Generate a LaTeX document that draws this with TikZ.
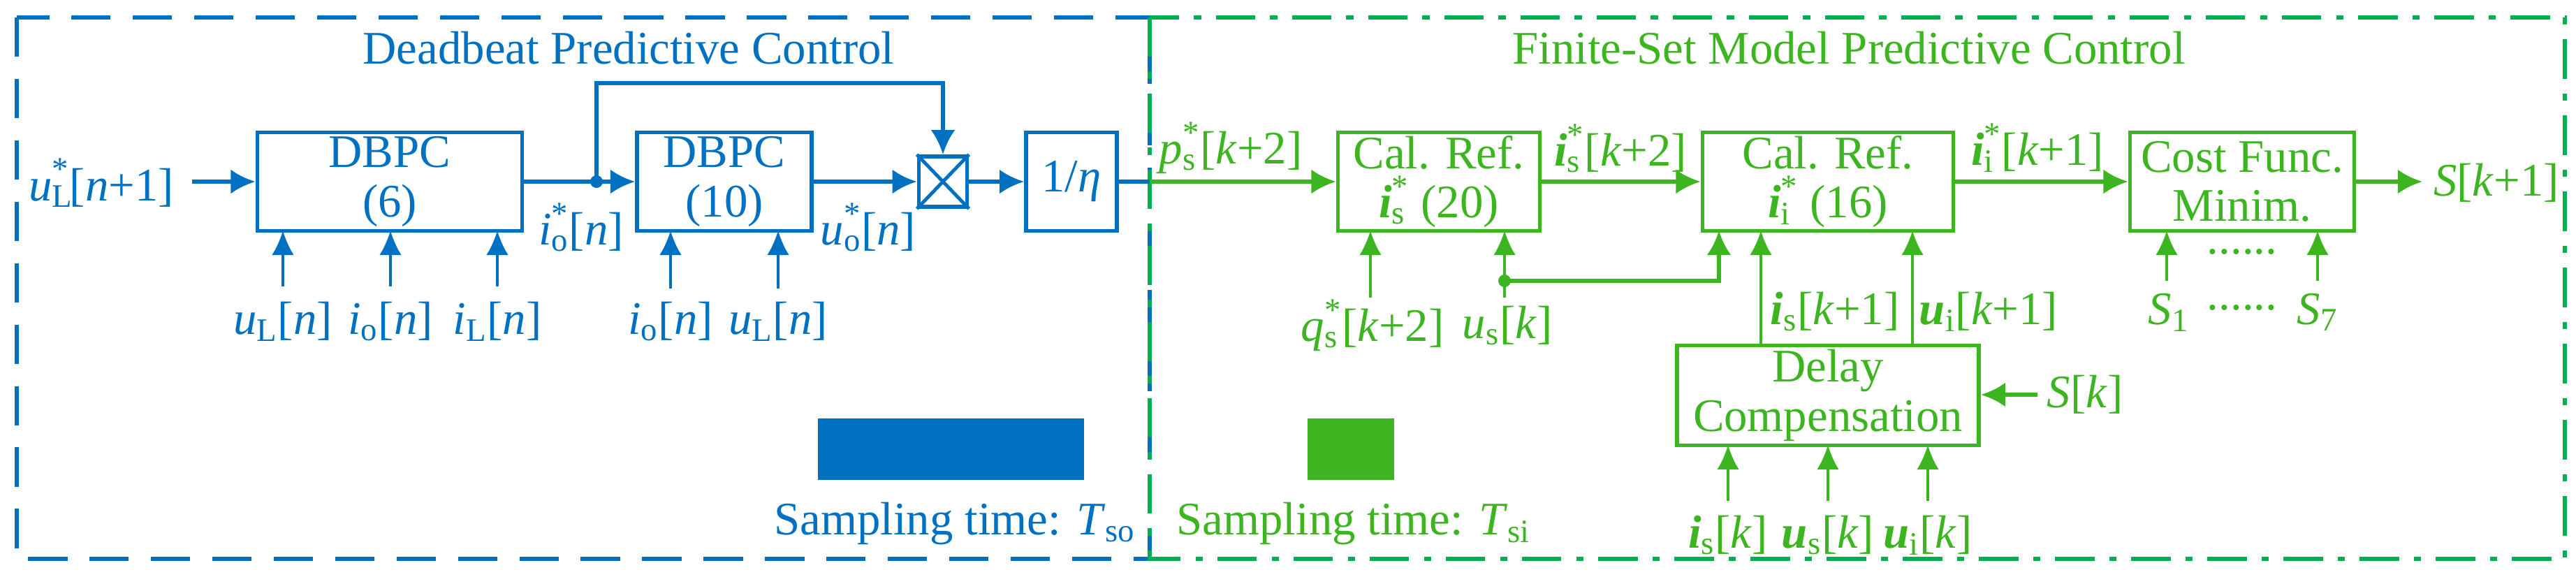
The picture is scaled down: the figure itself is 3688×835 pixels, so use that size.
\documentclass[tikz,border=0pt]{standalone}
\usepackage{fontspec}
\setmainfont{Liberation Serif}
\usetikzlibrary{arrows.meta}
\definecolor{cb}{HTML}{0070C0}
\definecolor{cg}{HTML}{3CB521}
\definecolor{cgb}{HTML}{00B050}
\newcommand\sbsp[2]{\rlap{\textsubscript{#1}}\raisebox{2pt}{\textsuperscript{#2}}}
\newcommand\bi[1]{\textbf{\textit{#1}}}
\begin{document}
\begin{tikzpicture}[x=0.01cm,y=-0.01cm,
  every node/.style={font=\fontsize{19}{21}\selectfont, inner sep=1pt},
  blk/.style={draw, line width=1.6pt, minimum height=1.41cm, align=center, font=\fontsize{19}{20}\selectfont},
  main/.style={line width=1.6pt, -{Latex[length=10pt,width=10pt]}},
  thin/.style={line width=0.9pt, -{Latex[length=10pt,width=9pt]}}]
\useasboundingbox (0,0) rectangle (3688,835);
% frames
\draw[cb, line width=1.8pt, dash pattern=on 16pt off 9pt] (24,25) rectangle (1646,800);
\draw[cgb, line width=1.8pt, dash pattern=on 16pt off 6pt on 3pt off 6pt] (1646,25) rectangle (3672,800);
\node[cb] (t1) at (900,69) {Deadbeat Predictive Control};
\node[cg] (t2) at (2647,69) {Finite-Set Model Predictive Control};
% blue part
\begin{scope}[cb]
\node[blk, minimum width=3.79cm] (d6) at (558,260) {DBPC\\(6)};
\node[blk, minimum width=2.50cm] (d10) at (1037,260) {DBPC\\(10)};
\node[blk, minimum width=0.69cm, minimum height=0.72cm] (x) at (1350,260) {};
\draw[line width=1.4pt] (x.north west) -- (x.south east) (x.north east) -- (x.south west);
\node[blk, minimum width=1.30cm] (eta) at (1534,260) {1/\textit{η}};
\coordinate (in) at (275,260);
\node (lin) at (145,262) {\textit{u}\sbsp{L}{*}[\textit{n}+1]};
\draw[main] (in) -- (d6.west);
\draw[main] (d6.east) -- (d10.west);
\coordinate (dot) at (854,260);
\fill (dot) circle (9);
\draw[main] (dot) |- (1350,119) -- (x.north);
\draw[main] (d10.east) -- (x.west);
\draw[main] (x.east) -- (eta.west);
\coordinate (bnd) at (1646,260);
\draw[line width=1.6pt] (eta.east) -- (bnd);
\node (io) at (832,325) {\textit{i}\sbsp{o}{*}[\textit{n}]};
\node (uo) at (1243,325) {\textit{u}\sbsp{o}{*}[\textit{n}]};
\foreach \xx/\nm/\t in {405/a/{\textit{u}\textsubscript{L}[\textit{n}]},559/b/{\textit{i}\textsubscript{o}[\textit{n}]},712/c/{\textit{i}\textsubscript{L}[\textit{n}]}}{
  \coordinate (s\nm) at (\xx,410);
  \draw[thin] (s\nm) -- (\xx,330);
  \node (l\nm) at (\xx,460) {\t};}
\foreach \xx/\nm/\t in {960/d/{\textit{i}\textsubscript{o}[\textit{n}]},1114/e/{\textit{u}\textsubscript{L}[\textit{n}]}}{
  \coordinate (s\nm) at (\xx,413);
  \draw[thin] (s\nm) -- (\xx,330);
  \node (l\nm) at (\xx,460) {\t};}
\fill (1171,599) rectangle (1552,687);
\node (st1) at (1367,750) {Sampling time: \textit{T}\textsubscript{so}};
\end{scope}
% green part
\begin{scope}[cg]
\node[blk, minimum width=2.89cm] (c1) at (2060,260) {Cal. Ref.\\\bi{i}\sbsp{s}{*} (20)};
\node[blk, minimum width=3.59cm] (c2) at (2617,260) {Cal. Ref.\\\bi{i}\sbsp{i}{*} (16)};
\node[blk, minimum width=3.21cm] (cf) at (3210,260) {Cost Func.\\Minim.};
\node[blk, minimum width=4.32cm, minimum height=1.43cm] (dl) at (2617,566) {Delay\\Compensation};
\draw[main] (bnd) -- (c1.west);
\draw[main] (c1.east) -- (c2.west);
\draw[main] (c2.east) -- (cf.west);
\coordinate (out) at (3468,260);
\draw[main] (cf.east) -- (out);
\node (lout) at (3574,262) {\textit{S}[\textit{k}+1]};
\node (lp) at (1762,212) {\textit{p}\sbsp{s}{*}[\textit{k}+2]};
\node (lis) at (2320,212) {\bi{i}\sbsp{s}{*}[\textit{k}+2]};
\node (lii) at (2917,212) {\bi{i}\sbsp{i}{*}[\textit{k}+1]};
\coordinate (sq) at (1962,426);
\draw[thin] (sq) -- (1962,330);
\coordinate (su) at (2154,426);
\draw[thin] (su) -- (2154,330);
\coordinate (gd) at (2154,402);
\fill (gd) circle (9);
\draw[line width=1.6pt, -{Latex[length=10pt,width=10pt]}] (gd) -| (2461,330);
\node (lq) at (1965,466) {\textit{q}\sbsp{s}{*}[\textit{k}+2]};
\node (lu) at (2158,466) {\textit{u}\textsubscript{s}[\textit{k}]};
\draw[thin] (dl.north -| 2521,0) -- (2521,330);
\draw[thin] (dl.north -| 2738,0) -- (2738,330);
\node (lik) at (2627,446) {\bi{i}\textsubscript{s}[\textit{k}+1]};
\node (luk) at (2847,446) {\bi{u}\textsubscript{i}[\textit{k}+1]};
\coordinate (sk) at (2917,565);
\draw[main] (sk) -- (dl.east |- sk);
\node (lsk) at (2985,565) {\textit{S}[\textit{k}]};
\foreach \xx/\nm/\t in {2474/f/{\bi{i}\textsubscript{s}[\textit{k}]},2617/g/{\bi{u}\textsubscript{s}[\textit{k}]},2760/h/{\bi{u}\textsubscript{i}[\textit{k}]}}{
  \coordinate (s\nm) at (\xx,717);
  \draw[thin] (s\nm) -- (\xx,637);
  \node (l\nm) at (\xx,766) {\t};}
\coordinate (s1) at (3102,402);
\draw[thin] (s1) -- (3102,330);
\coordinate (s7) at (3318,402);
\draw[thin] (s7) -- (3318,330);
\node (ld1) at (3210,360) {......};
\node (ls1) at (3105,447) {\textit{S}\textsubscript{1}};
\node (ld2) at (3210,440) {......};
\node (ls7) at (3318,447) {\textit{S}\textsubscript{7}};
\fill (1872,599) rectangle (1996,687);
\node (st2) at (1938,750) {Sampling time: \textit{T}\textsubscript{si}};
\end{scope}
\end{tikzpicture}
\end{document}
